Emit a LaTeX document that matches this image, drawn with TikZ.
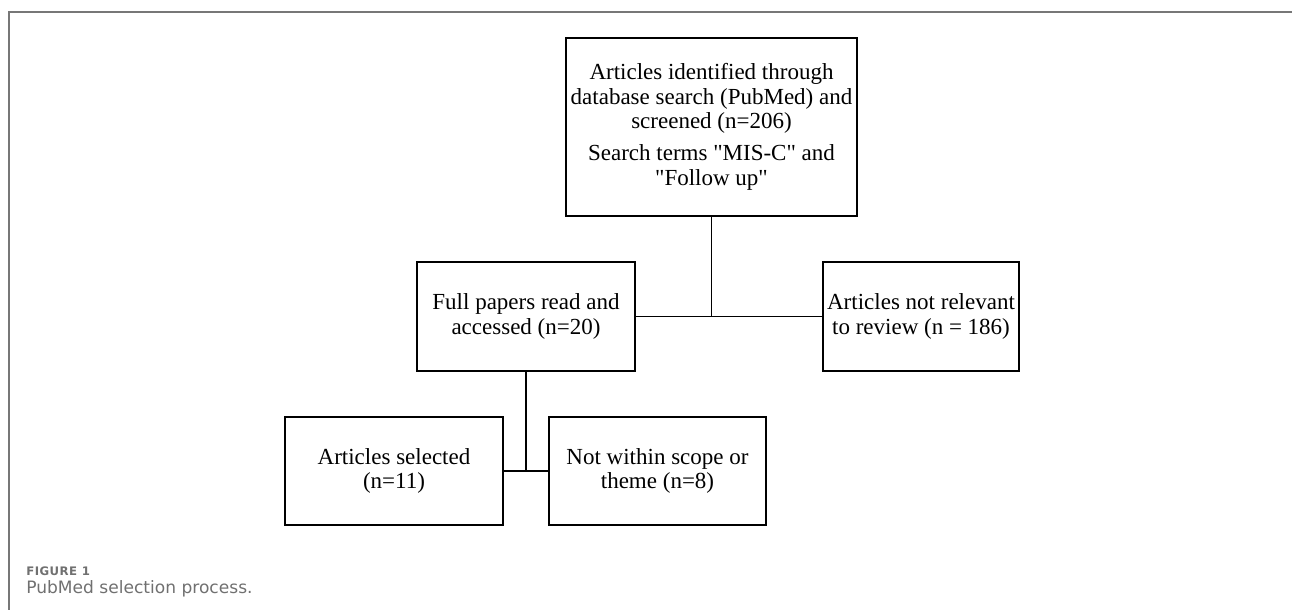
\documentclass[tikz,border=0pt]{standalone}
\usepackage{fontspec}
\setmainfont{Liberation Serif}
\newfontfamily\capfont{DejaVu Sans}
\definecolor{framegray}{HTML}{777777}
\definecolor{capgray}{HTML}{707070}
\begin{document}
\begin{tikzpicture}[x=0.75pt,y=-0.75pt,
  box/.style={draw, line width=1.1pt, align=center, inner sep=0pt,
    font=\fontsize{17.25}{18.4}\selectfont},
  link/.style={line width=1.1pt},
  captext/.style={anchor=base west, inner sep=0pt, text=capgray}]
\useasboundingbox (0,0) rectangle (1292,610);
\draw[framegray, line width=0.8pt] (9,610) -- (9,12) -- (1292,12);

\node[box, minimum width=218.25pt, minimum height=133.5pt] (top) at (711.5,127)
  {Articles identified through\\database search (PubMed) and\\screened (n=206)\\[5.6pt]Search terms \textquotedbl MIS-C\textquotedbl{} and\\\textquotedbl Follow up\textquotedbl};
\node[box, minimum width=163.5pt, minimum height=81.75pt] (ml) at (526,316.5)
  {Full papers read and\\accessed (n=20)};
\node[box, minimum width=147pt, minimum height=81.75pt] (rt) at (921,316.5)
  {Articles not relevant\\to review (n = 186)};
\node[box, minimum width=163.5pt, minimum height=81pt] (bl) at (394,471)
  {Articles selected\\(n=11)};
\node[box, minimum width=162.75pt, minimum height=81pt] (br) at (657.5,471)
  {Not within scope or\\theme (n=8)};

\coordinate (j1) at (top.south |- ml.east);
\draw[link] (top.south) -- (j1);
\draw[link] (ml.east) -- (rt.west);
\coordinate (j2) at (ml.south |- bl.east);
\draw[link] (ml.south) -- (j2);
\draw[link] (bl.east) -- (br.west);

\node[captext, font=\capfont\bfseries\fontsize{8.8}{10}\selectfont\addfontfeature{LetterSpace=4}] (fig) at (26,575) {FIGURE 1};
\node[captext, font=\capfont\fontsize{12.8}{15}\selectfont] (cap) at (26,593) {PubMed selection process.};
\end{tikzpicture}
\end{document}
